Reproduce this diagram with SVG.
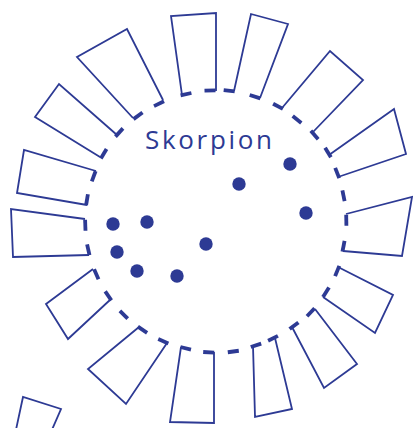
<svg xmlns="http://www.w3.org/2000/svg" width="413" height="428" viewBox="0 0 413 428">
<style>
.tr{fill:none;stroke:#2d3a94;stroke-width:1.8;stroke-linejoin:miter}
.ds{stroke:#2d3a94;stroke-width:3.8;stroke-linecap:butt}
.dot{fill:#2d3a94}
.ttl{font-family:"Open Sans","Liberation Sans",sans-serif;font-size:26px;fill:#2d3a94}
</style>
<rect width="413" height="428" fill="#ffffff"/>
<g id="ring">
<line class="ds" x1="346.2" y1="214.7" x2="346.4" y2="225.7"/>
<line class="ds" x1="344.55" y1="240.9" x2="342.45" y2="251.7"/>
<line class="ds" x1="339.3" y1="265.9" x2="335.1" y2="276.1"/>
<line class="ds" x1="329.0" y1="287.6" x2="323.0" y2="297.0"/>
<line class="ds" x1="314.6" y1="308.2" x2="307.0" y2="316.2"/>
<line class="ds" x1="298.4" y1="322.5" x2="289.6" y2="329.1"/>
<line class="ds" x1="277.9" y1="335.9" x2="268.1" y2="340.7"/>
<line class="ds" x1="261.2" y1="343.6" x2="250.8" y2="347.0"/>
<line class="ds" x1="238.8" y1="350.75" x2="227.8" y2="352.25"/>
<line class="ds" x1="214.2" y1="352.6" x2="203.2" y2="352.0"/>
<line class="ds" x1="191.0" y1="349.6" x2="180.4" y2="347.0"/>
<line class="ds" x1="168.35" y1="343.4" x2="158.25" y2="339.0"/>
<line class="ds" x1="147.1" y1="332.8" x2="137.9" y2="326.6"/>
<line class="ds" x1="127.7" y1="318.6" x2="119.9" y2="310.8"/>
<line class="ds" x1="111.4" y1="300.3" x2="105.2" y2="291.3"/>
<line class="ds" x1="98.5" y1="279.2" x2="94.1" y2="269.2"/>
<line class="ds" x1="89.5" y1="255.1" x2="87.1" y2="244.3"/>
<line class="ds" x1="85.5" y1="230.7" x2="85.1" y2="219.7"/>
<line class="ds" x1="86.1" y1="205.1" x2="87.9" y2="194.3"/>
<line class="ds" x1="91.8" y1="181.4" x2="95.6" y2="171.2"/>
<line class="ds" x1="100.85" y1="158.5" x2="106.55" y2="149.1"/>
<line class="ds" x1="115.45" y1="136.6" x2="122.95" y2="128.4"/>
<line class="ds" x1="133.5" y1="119.1" x2="142.5" y2="112.5"/>
<line class="ds" x1="154.0" y1="106.1" x2="164.0" y2="101.3"/>
<line class="ds" x1="180.6" y1="95.4" x2="191.4" y2="93.0"/>
<line class="ds" x1="204.5" y1="90.7" x2="215.5" y2="90.3"/>
<line class="ds" x1="223.7" y1="90.2" x2="234.7" y2="91.4"/>
<line class="ds" x1="249.7" y1="95.0" x2="260.3" y2="98.4"/>
<line class="ds" x1="273.1" y1="103.7" x2="282.9" y2="108.9"/>
<line class="ds" x1="292.7" y1="116.1" x2="301.3" y2="122.9"/>
<line class="ds" x1="310.85" y1="130.8" x2="318.15" y2="139.2"/>
<line class="ds" x1="325.1" y1="147.8" x2="330.9" y2="157.2"/>
<line class="ds" x1="335.2" y1="167.9" x2="339.2" y2="178.1"/>
<line class="ds" x1="342.4" y1="190.4" x2="344.6" y2="201.2"/>
</g>
<g id="t1"><polyline class="tr" points="182,95 171,16 216,13 216,91"/></g>
<g id="t2"><polyline class="tr" points="234,91 251,14 288,24 260,98"/></g>
<g id="t3"><polyline class="tr" points="282,108 330,51 363,80 313,132"/></g>
<g id="t4"><polyline class="tr" points="329,155 394,109 406,154 338,177"/></g>
<g id="t5"><polyline class="tr" points="346,214 412,197 402,256 343,251"/></g>
<g id="t6"><polyline class="tr" points="338,267 393,295 375,333 323,297"/></g>
<g id="t7"><polyline class="tr" points="315,309 357,364 324,388 292,327"/></g>
<g id="t8"><polyline class="tr" points="275,338 292,409 255,417 253,346"/></g>
<g id="t9"><polyline class="tr" points="181,347 170,422 214,423 214,352"/></g>
<g id="t10"><polyline class="tr" points="139,327 88,369 126,404 167,343"/></g>
<g id="t11"><polyline class="tr" points="93,269 46,304 68,339 111,299"/></g>
<g id="t12"><polyline class="tr" points="85,219 11,209 13,257 89,255"/></g>
<g id="t13"><polyline class="tr" points="96,171 24,150 17,193 87,205"/></g>
<g id="t14"><polyline class="tr" points="100,157 35,117 59,84 117,135"/></g>
<g id="t15"><polyline class="tr" points="133,118 77,57 127,29 163,100"/></g>
<g id="t16"><polyline class="tr" points="15.5,432 23,397 61,409 51,432"/></g>
<g id="stars">
<circle class="dot" cx="113" cy="224" r="6.7"/>
<circle class="dot" cx="147" cy="222" r="6.7"/>
<circle class="dot" cx="117" cy="252" r="6.7"/>
<circle class="dot" cx="137" cy="271" r="6.7"/>
<circle class="dot" cx="177" cy="276" r="6.7"/>
<circle class="dot" cx="206" cy="244" r="6.7"/>
<circle class="dot" cx="239" cy="184" r="6.7"/>
<circle class="dot" cx="290" cy="164" r="6.7"/>
<circle class="dot" cx="306" cy="213" r="6.7"/>
</g>
<g id="title"><text class="ttl" x="145" y="149" textLength="127" lengthAdjust="spacing">Skorpion</text></g>
</svg>
